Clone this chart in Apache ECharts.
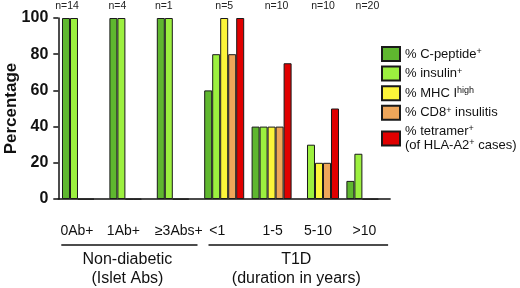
<!DOCTYPE html>
<html>
<head>
<meta charset="utf-8">
<script src="https://cdn.jsdelivr.net/npm/echarts@6/dist/echarts.min.js"></script>
<style>
  html, body { margin: 0; padding: 0; background: #fff; }
  #chart { width: 520px; height: 288px; }
</style>
</head>
<body>
<div id="chart"></div>
<script>
// categories (groups of donors)
const categories = ['0Ab+', '1Ab+', '≥3Abs+', '<1', '1-5', '5-10', '>10'];
const sampleSizes = ['n=14', 'n=4', 'n=1', 'n=5', 'n=10', 'n=10', 'n=20'];

// series values, percentage (null = not measured)
const cPeptide = [100, 100, 100, 60, 40, null, 10];
const insulin = [100, 100, 100, 80, 40, 30, 25];
const mhcHigh = [0, 0, 0, 100, 40, 20, 0];
const cd8Insulitis = [0, 0, 0, 80, 40, 20, 0];
const tetramer = [null, null, null, 100, 75, 50, null];

const yTicks = [0, 20, 40, 60, 80, 100];

// higher level grouping under the x axis
const groups = [
    { label: 'Non-diabetic\n(Islet Abs)', from: 0, to: 2 },
    { label: 'T1D\n(duration in years)', from: 3, to: 6 }
];

// small horizontal nudges of the labels (px, negative = left), like the original figure
const nLabelShift = [-15, -12, -13, 0, 5, 4, 1];
const catLabelShift = [-5, -6, 2, -7, 1, -1, -2];

const font = '"Liberation Sans", Arial, sans-serif';
const catGap = 0.156;

const seriesDefs = [
    { name: 'C-peptide', data: cPeptide, color: '#5fb72f', label: '% C-peptide{sup|+}' },
    { name: 'insulin', data: insulin, color: '#9cf03f', label: '% insulin{sup|+}' },
    { name: 'MHC I high', data: mhcHigh, color: '#fcf53a', label: '% MHC I{sup|high}' },
    { name: 'CD8 insulitis', data: cd8Insulitis, color: '#eea65a', label: '% CD8{sup|+} insulitis' },
    { name: 'tetramer', data: tetramer, color: '#e00000', label: '% tetramer{sup|+}\n(of HLA-A2{sup|+} cases)' }
];

function shifted(labels, shifts) {
    return labels.map((l, i) => ({
        value: l,
        textStyle: { padding: shifts[i] < 0 ? [0, -2 * shifts[i], 0, 0] : [0, 0, 0, 2 * shifts[i]] }
    }));
}

// zero values: [category index, value, series index] -> drawn as a flat line on the baseline
const zeroMarks = [];
seriesDefs.forEach((s, si) => s.data.forEach((v, i) => { if (v === 0) zeroMarks.push([i, v, si]); }));

const series = seriesDefs.map(s => ({
    name: s.name,
    type: 'bar',
    data: s.data,
    barGap: 0,
    barCategoryGap: (catGap * 100) + '%',
    itemStyle: { color: s.color, borderColor: '#1a1a1a', borderWidth: 1 }
}));
series.push({
    name: 'zero',
    type: 'custom',
    silent: true,
    data: zeroMarks,
    encode: { x: 0, y: 1 },
    renderItem: (params, api) => {
        const p = api.coord([api.value(0), api.value(1)]);
        const band = api.size([1, 0])[0];
        const w = band * (1 - catGap) / seriesDefs.length;
        const x0 = p[0] - w * seriesDefs.length / 2 + api.value(2) * w;
        return {
            type: 'line',
            shape: { x1: x0, y1: p[1] - 0.5, x2: x0 + w, y2: p[1] - 0.5 },
            style: { stroke: '#707070', lineWidth: 1 }
        };
    }
});

const chart = echarts.init(document.getElementById('chart'));
const option = {
    animation: false,
    textStyle: { fontFamily: font },
    grid: { left: 58.3, top: 18, width: 331.8, bottom: 89, containLabel: false, outerBoundsMode: 'none' },
    legend: {
        data: seriesDefs.map(s => s.name),
        orient: 'vertical',
        left: 381,
        top: 46,
        padding: 0,
        itemWidth: 18,
        itemHeight: 14,
        itemGap: 3.6,
        icon: 'rect',
        selectedMode: false,
        formatter: name => seriesDefs.find(s => s.name === name).label,
        textStyle: {
            fontSize: 13,
            color: '#111',
            fontFamily: font,
            lineHeight: 14,
            rich: {
                sup: { fontSize: 9, verticalAlign: 'top', lineHeight: 14, padding: [0, 0, 6, 0], fontFamily: font, color: '#111' }
            }
        }
    },
    xAxis: [{
        type: 'category',
        data: shifted(categories, catLabelShift),
        offset: 16,
        axisLine: { show: true, lineStyle: { color: '#111', width: 1.5 } },
        axisTick: { show: false },
        axisLabel: { fontSize: 14, color: '#111', margin: 9, fontFamily: font, interval: 0 }
    }, {
        type: 'category',
        position: 'top',
        data: shifted(sampleSizes, nLabelShift),
        axisLine: { show: false },
        axisTick: { show: false },
        axisLabel: { fontSize: 10.5, color: '#222', margin: 6, fontFamily: font, interval: 0 }
    }],
    yAxis: {
        type: 'value',
        min: 0,
        max: 100,
        interval: 20,
        name: 'Percentage',
        nameLocation: 'middle',
        nameRotate: 90,
        nameGap: 38,
        nameMoveOverlap: false,
        nameTextStyle: { fontSize: 17, fontWeight: 'bold', color: '#111', fontFamily: font },
        splitLine: { show: false },
        axisLine: { show: true, lineStyle: { color: '#111', width: 1.5 } },
        axisTick: { show: true, length: 5, lineStyle: { color: '#111', width: 1.5 } },
        axisLabel: {
            fontSize: 16, fontWeight: 'bold', color: '#111', margin: 10, fontFamily: font,
            formatter: v => yTicks.indexOf(v) >= 0 ? String(v) : ''
        }
    },
    series: series
};
chart.setOption(option);

// brackets + group names below the category labels
const step = chart.convertToPixel({ xAxisIndex: 0 }, 1) - chart.convertToPixel({ xAxisIndex: 0 }, 0);
const elements = [];
groups.forEach((g, i) => {
    const x0 = chart.convertToPixel({ xAxisIndex: 0 }, g.from) - step / 2 + (i === 0 ? 3 : 8);
    const x1 = chart.convertToPixel({ xAxisIndex: 0 }, g.to) + step / 2 - (i === 0 ? 3 : 2);
    elements.push({
        type: 'line',
        shape: { x1: x0, y1: 245, x2: x1, y2: 245 },
        style: { stroke: '#111', lineWidth: 1.5 }
    });
    elements.push({
        type: 'text',
        x: (x0 + x1) / 2 - 2,
        y: 250,
        style: {
            text: g.label,
            fontSize: 16,
            lineHeight: 19,
            fontFamily: font,
            fill: '#111',
            align: 'center',
            verticalAlign: 'top'
        }
    });
});
chart.setOption({ graphic: elements });
</script>
</body>
</html>
